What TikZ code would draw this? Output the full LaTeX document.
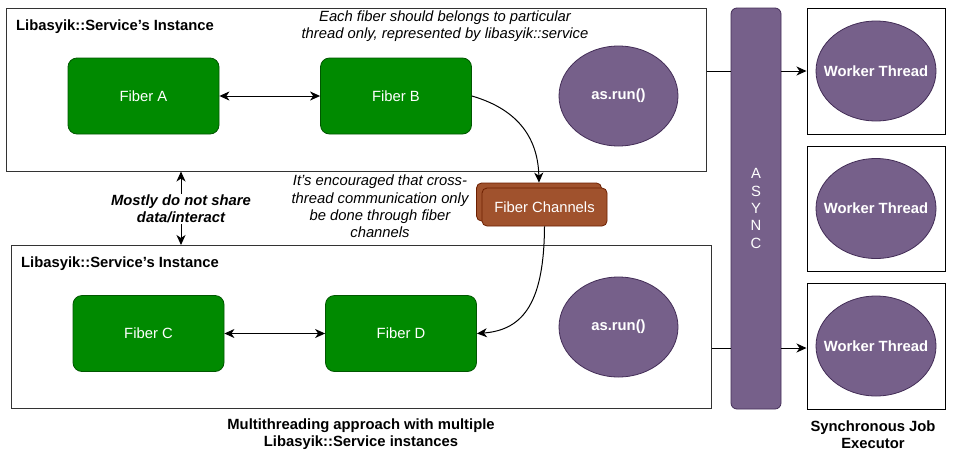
\documentclass[tikz,border=0pt]{standalone}
\usepackage{fontspec}
\setmainfont{Liberation Sans}
\usetikzlibrary{arrows.meta,shapes.geometric}
\definecolor{fibgreen}{HTML}{008A00}
\definecolor{fibgreenb}{HTML}{005700}
\definecolor{purp}{HTML}{76608A}
\definecolor{purpb}{HTML}{432D57}
\definecolor{chan}{HTML}{A0522D}
\definecolor{chanb}{HTML}{6D1F00}
\definecolor{edge}{HTML}{333333}
\newcommand{\fsz}{\fontsize{14.8}{17.2}\selectfont}
\tikzset{
  txt/.style={font=\fsz, inner sep=0pt, align=center},
  instbox/.style={draw=edge, line width=1pt, minimum width=700pt, minimum height=163pt, inner sep=0pt},
  fiber/.style={draw=fibgreenb, fill=fibgreen, rounded corners=9pt, line width=0.8pt, minimum width=151pt, minimum height=76pt, text=white, font=\fsz},
  purpell/.style={ellipse, draw=purpb, fill=purp, line width=0.8pt, minimum width=119pt, minimum height=100pt, inner sep=0pt, text=white, font=\bfseries\fsz},
  wbox/.style={draw=black, line width=1pt, minimum width=138pt, inner sep=0pt},
  chanbox/.style={draw=chanb, fill=chan, rounded corners=5pt, line width=0.8pt, minimum width=125pt, minimum height=38pt, text=white, font=\fsz},
  tip/.tip={Stealth[length=10pt,width=9pt,inset=3pt]},
  arr/.style={-tip, line width=1pt},
  darr/.style={tip-tip, line width=1pt},
  plain/.style={line width=1pt}
}
\begin{document}
\begin{tikzpicture}[x=1pt,y=-1pt]
\useasboundingbox[fill=white] (0,0) rectangle (957,461);
% instance boxes
\node[instbox] (topbox) at (356,89.5) {};
\node[instbox] (botbox) at (361,327) {};
\node[txt, anchor=west, font=\bfseries\fsz] (toptitle) at (16,27) {Libasyik::Service's Instance};
\node[txt, anchor=west, font=\bfseries\fsz] (bottitle) at (21,264) {Libasyik::Service's Instance};
% fibers
\node[fiber] (fa) at (143.5,96) {Fiber A};
\node[fiber] (fb) at (396,96) {Fiber B};
\node[fiber] (fc) at (148.5,333.5) {Fiber C};
\node[fiber] (fd) at (401,333.5) {Fiber D};
\draw[darr] (fa) -- (fb);
\draw[darr] (fc) -- (fd);
% as.run
\node[purpell] (run1) at (618.5,96) {as.run()};
\node[purpell] (run2) at (618.5,327) {as.run()};
% async bar
\node[draw=purpb, fill=purp, rounded corners=6pt, line width=0.8pt, minimum width=50pt, minimum height=401pt, inner sep=0pt] (async) at (756,208.5) {};
\node[txt, text=white, font=\fontsize{14.8}{17.3}\selectfont] (asynctxt) at (756,208.5) {A\\S\\Y\\N\\C};
% worker boxes
\node[wbox, minimum height=126pt] (wbox1) at (876,71) {};
\node[wbox, minimum height=125pt] (wbox2) at (876,208.5) {};
\node[wbox, minimum height=126pt] (wbox3) at (876,346) {};
\node[purpell, minimum width=120pt, inner xsep=-30pt] (wt1) at (876,71) {Worker Thread};
\node[purpell, minimum width=120pt, inner xsep=-30pt] (wt2) at (876,208.5) {Worker Thread};
\node[purpell, minimum width=120pt, inner xsep=-30pt] (wt3) at (876,346) {Worker Thread};
% async connectors
\draw[plain] (topbox.east |- wbox1) -- (async.west |- wbox1);
\draw[arr] (async.east |- wbox1) -- (wbox1.west);
\draw[plain] (botbox.east |- 0,348) -- (async.west |- 0,348);
\draw[arr] (async.east |- 0,348) -- (wbox3.west |- 0,348);
% fiber channels
\node[chanbox] (chanback) at (539,202) {};
\node[chanbox] (chan) at (544.5,207) {Fiber Channels};
\draw[arr] (fb.east) .. controls (520,110) and (538,140) .. (chanback.north);
\draw[arr] (chan.south) .. controls (544,300) and (525,330) .. (fd.east);
% notes
\node[txt, font=\itshape\fsz] (note1) at (445,26.5) {Each fiber should belongs to particular\\thread only, represented by libasyik::service};
\node[txt, font=\itshape\fsz] (note2) at (380,206.5) {It's encouraged that cross-\\thread communication only\\be done through fiber\\channels};
% mostly label
\coordinate (m) at (181,209);
\draw[darr] (topbox.south -| m) -- (botbox.north -| m);
\node[txt, fill=white, inner sep=1pt, font=\bfseries\itshape\fsz] (mostly) at (m) {Mostly do not share\\data/interact};
% captions
\node[txt, font=\bfseries\fsz] (cap1) at (361,434.5) {Multithreading approach with multiple\\Libasyik::Service instances};
\node[txt, font=\bfseries\fsz] (cap2) at (873,434.5) {Synchronous Job\\Executor};
\end{tikzpicture}
\end{document}
